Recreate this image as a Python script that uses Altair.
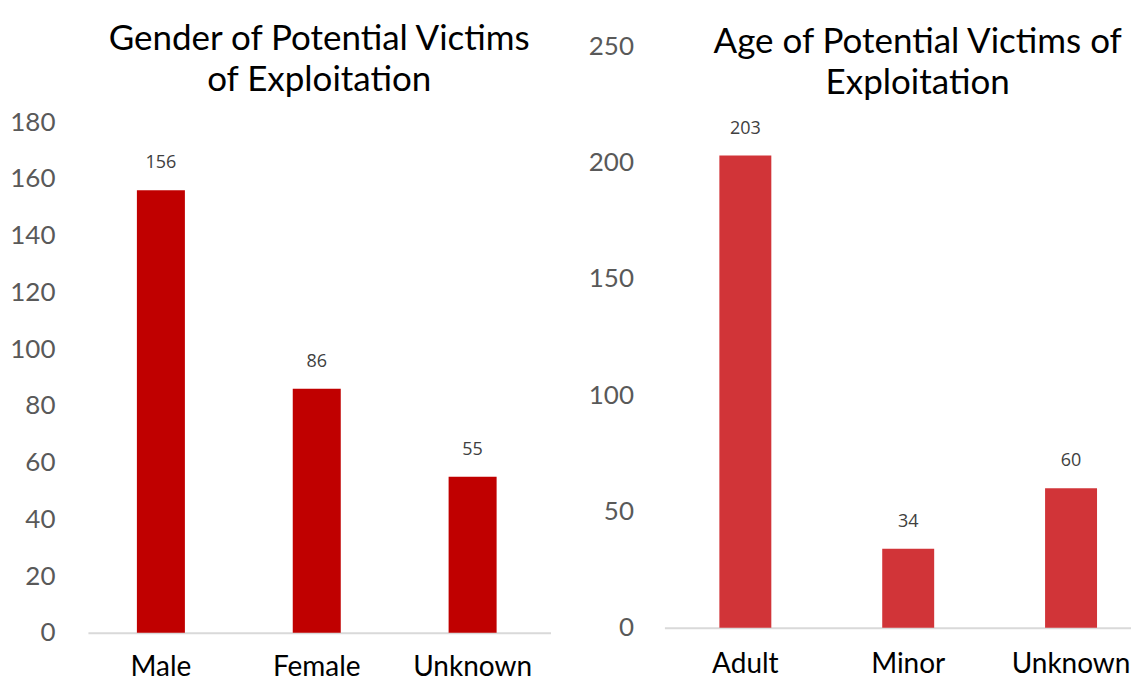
import altair as alt
import pandas as pd

gender_cats = ["Male", "Female", "Unknown"]
gender_vals = [156, 86, 55]
age_cats = ["Adult", "Minor", "Unknown"]
age_vals = [203, 34, 60]

gender_ticks = [0, 20, 40, 60, 80, 100, 120, 140, 160, 180]
age_ticks = [0, 50, 100, 150, 200, 250]

gender_title = ["Gender of Potential Victims", "of Exploitation"]
age_title = ["Age of Potential Victims of", "Exploitation"]

df_g = pd.DataFrame({"cat": gender_cats, "val": gender_vals})
df_a = pd.DataFrame({"cat": age_cats, "val": age_vals})


def panel(df, cats, color, ticks, ymax, width, height, pi, po, align,
          title_lines, title_offset, title_dx, xlab_pad, ylab_pad):
    x = alt.X(
        "cat:N", sort=cats,
        scale=alt.Scale(paddingInner=pi, paddingOuter=po, align=align),
        axis=alt.Axis(title=None, labelAngle=0, labelFont="Lato", labelFontSize=28,
                      labelColor="#000000", labelPadding=xlab_pad,
                      domainColor="#D9D9D9", domainWidth=2, ticks=False),
    )
    y = alt.Y(
        "val:Q",
        scale=alt.Scale(domain=[0, ymax], nice=False, zero=True),
        axis=alt.Axis(title=None, values=ticks, grid=False, domain=False, ticks=False,
                      labelFont="Lato", labelFontSize=26, labelColor="#595959",
                      labelPadding=ylab_pad),
    )
    bars = alt.Chart(df).mark_bar(color=color).encode(x=x, y=y)
    text = alt.Chart(df).mark_text(
        font="Open Sans", fontSize=18, color="#404040", baseline="bottom", dy=-18
    ).encode(x=x, y=y, text="val:Q")
    return alt.layer(bars, text).properties(
        width=width, height=height,
        title=alt.TitleParams(
            text=title_lines, font="Lato", fontSize=35, fontWeight="normal",
            color="#000000", anchor="middle", frame="group",
            offset=title_offset, dx=title_dx, lineHeight=41,
        ),
    )


left = panel(df_g, gender_cats, "#C00000", gender_ticks, 206.8, 463, 587,
             0.692, 0.33, 0.476, gender_title, -52, 0, 21, 33)
right = panel(df_a, age_cats, "#D13438", age_ticks, 250, 467, 582,
              0.681, 0.273, 0.618, age_title, -68, 20, 23, 31)

chart = alt.hconcat(left, right, spacing=37).properties(
    padding={"left": 1, "top": 14, "right": 0, "bottom": 0}
).configure_view(stroke=None)

chart.save("out.html", embed_options={"renderer": "svg", "actions": False})
